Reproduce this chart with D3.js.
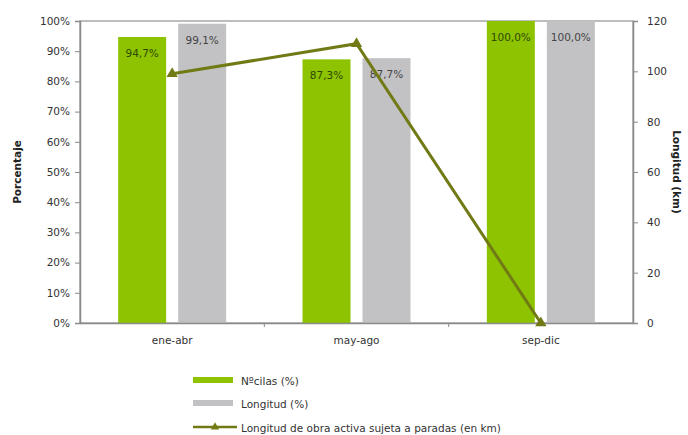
<!DOCTYPE html>
<html>
<head>
<meta charset="utf-8">
<script src="https://cdn.jsdelivr.net/npm/d3@7"></script>
<style>
  html, body { margin: 0; padding: 0; background: #fff; }
  svg { display: block; font-family: "DejaVu Sans", Verdana, sans-serif; }
</style>
</head>
<body>
<svg id="chart" width="688" height="435"></svg>
<script>
// Periods on the x axis
const categories = ["ene-abr", "may-ago", "sep-dic"];
// Bar series (percent)
const ciclasPct = [94.7, 87.3, 100.0];
const longitudPct = [99.1, 87.7, 100.0];
// Line series (km)
const longitudKm = [99, 111, 0];
// Axis ticks
const leftTicks = [0, 10, 20, 30, 40, 50, 60, 70, 80, 90, 100];
const rightTicks = [0, 20, 40, 60, 80, 100, 120];
// Legend labels
const legendLabels = ["Nºcilas (%)", "Longitud (%)", "Longitud de obra activa sujeta a paradas (en km)"];

const green = "#8dc300";
const grey = "#c2c2c4";
const olive = "#717a14";
const axisCol = "#8a8a8a";
const textCol = "#333";

const svg = d3.select("#chart");
const m = { left: 80, right: 633, top: 21, bottom: 323 };

const x = d3.scaleBand().domain(categories).range([m.left, m.right]);
const yL = d3.scaleLinear().domain([0, 100]).range([m.bottom, m.top]);
const yR = d3.scaleLinear().domain([0, 120]).range([m.bottom, m.top]);

const barW = 48, gap = 12;
const fmt = v => v.toFixed(1).replace(".", ",") + "%";

// plot frame
svg.append("rect")
  .attr("x", m.left).attr("y", m.top)
  .attr("width", m.right - m.left).attr("height", m.bottom - m.top)
  .attr("fill", "none").attr("stroke", "#a8a8a8").attr("stroke-width", 1.5);

// bars
const groups = svg.append("g");
categories.forEach((c, i) => {
  const cx = x(c) + x.bandwidth() / 2;
  const gx = cx - gap / 2 - barW;
  const sx = cx + gap / 2;
  groups.append("rect").attr("x", gx).attr("y", yL(ciclasPct[i]))
    .attr("width", barW).attr("height", yL(0) - yL(ciclasPct[i])).attr("fill", green);
  groups.append("rect").attr("x", sx).attr("y", yL(longitudPct[i]))
    .attr("width", barW).attr("height", yL(0) - yL(longitudPct[i])).attr("fill", grey);
  groups.append("text").attr("x", gx + barW / 2).attr("y", yL(ciclasPct[i]) + 20)
    .attr("text-anchor", "middle").attr("font-size", 10.5).attr("fill", "#2f4a00")
    .text(fmt(ciclasPct[i]));
  groups.append("text").attr("x", sx + barW / 2).attr("y", yL(longitudPct[i]) + 20)
    .attr("text-anchor", "middle").attr("font-size", 10.5).attr("fill", "#444")
    .text(fmt(longitudPct[i]));
});

// left axis
const axL = svg.append("g").attr("transform", `translate(${m.left},0)`)
  .call(d3.axisLeft(yL).tickValues(leftTicks).tickFormat(d => d + "%").tickSize(5).tickPadding(5));
axL.selectAll("text").attr("font-size", 10.5).attr("fill", textCol)
  .attr("font-family", "DejaVu Sans, sans-serif");

// right axis
const axR = svg.append("g").attr("transform", `translate(${m.right},0)`)
  .call(d3.axisRight(yR).tickValues(rightTicks).tickSize(5).tickPadding(9));
axR.selectAll("text").attr("font-size", 10.5).attr("fill", textCol)
  .attr("font-family", "DejaVu Sans, sans-serif");

// bottom axis
const axB = svg.append("g").attr("transform", `translate(0,${m.bottom})`)
  .call(d3.axisBottom(x).tickSize(0).tickPadding(14));
axB.selectAll("text").attr("font-size", 10.5).attr("fill", textCol)
  .attr("font-family", "DejaVu Sans, sans-serif");
// small boundary ticks between periods
axB.selectAll(".bound").data(categories.slice(1)).enter().append("line")
  .attr("x1", d => x(d)).attr("x2", d => x(d)).attr("y1", 0).attr("y2", 4)
  .attr("stroke", axisCol);

[axL, axR, axB].forEach(a => {
  a.select(".domain").attr("stroke", axisCol).attr("stroke-width", 1.5);
  a.selectAll(".tick line").attr("stroke", axisCol);
});

// axis titles
svg.append("text").attr("transform", `translate(21,172) rotate(-90)`)
  .attr("text-anchor", "middle").attr("font-size", 10.5).attr("font-weight", "bold")
  .attr("fill", "#222").text("Porcentaje");
svg.append("text").attr("transform", `translate(673,172) rotate(90)`)
  .attr("text-anchor", "middle").attr("font-size", 10.5).attr("font-weight", "bold")
  .attr("fill", "#222").text("Longitud (km)");

// line series
const pts = categories.map((c, i) => [x(c) + x.bandwidth() / 2, yR(longitudKm[i])]);
svg.append("path").attr("d", d3.line()(pts))
  .attr("fill", "none").attr("stroke", olive).attr("stroke-width", 3);
const tri = d3.symbol().type(d3.symbolTriangle).size(55);
svg.selectAll(".mk").data(pts).enter().append("path")
  .attr("d", tri).attr("transform", d => `translate(${d[0]},${d[1]})`)
  .attr("fill", olive);

// legend
const lg = svg.append("g");
const lx = 193, lw = 40;
lg.append("rect").attr("x", lx).attr("y", 377).attr("width", lw).attr("height", 6).attr("fill", green);
lg.append("rect").attr("x", lx).attr("y", 400).attr("width", lw).attr("height", 6).attr("fill", grey);
lg.append("line").attr("x1", lx).attr("x2", lx + lw + 4).attr("y1", 427).attr("y2", 427)
  .attr("stroke", olive).attr("stroke-width", 2.5);
lg.append("path").attr("d", d3.symbol().type(d3.symbolTriangle).size(30))
  .attr("transform", `translate(${lx + lw / 2 + 2},427)`).attr("fill", olive);
[381, 404, 428].forEach((yy, i) => {
  lg.append("text").attr("x", lx + lw + 8).attr("y", yy + 4)
    .attr("font-size", 10.5).attr("fill", textCol).text(legendLabels[i]);
});
</script>
</body>
</html>
